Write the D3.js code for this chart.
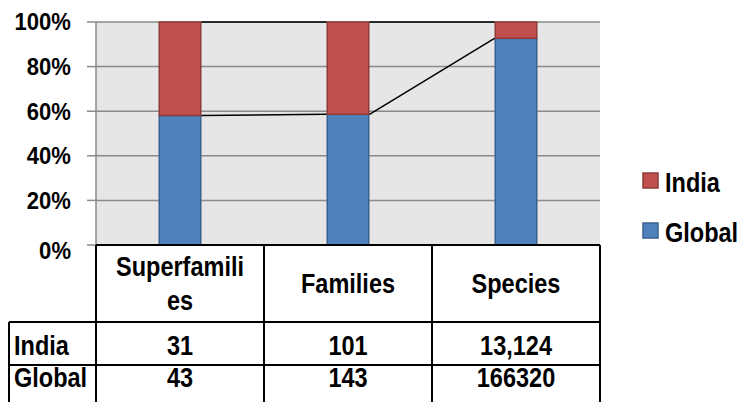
<!DOCTYPE html>
<html><head><meta charset="utf-8">
<script src="https://cdn.jsdelivr.net/npm/d3@7"></script>
<style>
html,body{margin:0;padding:0;background:#fff;}
text{font-family:'Liberation Sans',Arial,sans-serif;font-weight:bold;fill:#000;}
</style></head>
<body>
<svg id="c" width="749" height="402"></svg>
<script>
const categories = ["Superfamilies","Families","Species"];
const headerLines = [["Superfamili","es"],["Families"],["Species"]];
const seriesNames = ["India","Global"];
const indiaValues = [31,101,13124];
const globalValues = [43,143,166320];
const indiaLabels = ["31","101","13,124"];
const globalLabels = ["43","143","166320"];
const yTicks = [0,0.2,0.4,0.6,0.8,1];
const colors = {India:"#c0504d", Global:"#4f81bd"};
const strokes = {India:"#8e3b39", Global:"#3a6291"};

function addText(g, px, py, txt, anchor, size, sx){
  return g.append("text")
    .attr("transform",`translate(${px},${py}) scale(${sx},1)`)
    .attr("text-anchor",anchor).attr("dominant-baseline","central")
    .attr("font-size",size).text(txt);
}

const svg = d3.select("#c");
const L=96,R=600,T=22,B=245;
const x = d3.scaleBand().domain(categories).range([L,R]).paddingInner(0.744).paddingOuter(0.372);
const col = d3.scaleBand().domain(categories).range([L,R]);
const y = d3.scaleLinear().domain([0,1]).range([B,T]);

const rows = categories.map((c,i)=>({cat:c, India:indiaValues[i], Global:globalValues[i]}));
const stack = d3.stack().keys(["Global","India"]).offset(d3.stackOffsetExpand);
const stacked = stack(rows);

// plot background
svg.append("rect").attr("x",L).attr("y",T).attr("width",R-L).attr("height",B-T).attr("fill","#e6e6e6");
// gridlines
svg.append("g").selectAll("line").data(yTicks.filter(d=>d>0)).join("line")
  .attr("x1",L).attr("x2",R).attr("y1",d=>y(d)).attr("y2",d=>y(d))
  .attr("stroke","#8a8a8a").attr("stroke-width",1.5);
// y axis line and ticks
svg.append("line").attr("x1",L).attr("x2",L).attr("y1",T).attr("y2",B).attr("stroke","#8a8a8a").attr("stroke-width",1.5);
svg.append("g").selectAll("line").data(yTicks).join("line")
  .attr("x1",L-9).attr("x2",L).attr("y1",d=>y(d)).attr("y2",d=>y(d))
  .attr("stroke","#8a8a8a").attr("stroke-width",1.5);
const yl = svg.append("g");
yTicks.forEach(d=>addText(yl,71,y(d)+(d===0?6:0),d3.format(".0%")(d),"end",24,0.92));

// bars
stacked.forEach(s=>{
  svg.append("g").selectAll("rect").data(s).join("rect")
    .attr("x",d=>x(d.data.cat)+0.75).attr("width",x.bandwidth()-1.5)
    .attr("y",d=>y(d[1])).attr("height",d=>y(d[0])-y(d[1]))
    .attr("fill",colors[s.key]).attr("stroke",strokes[s.key]).attr("stroke-width",1.5);
});
// series lines
stacked.forEach(s=>{
  const segs = [];
  for(let i=0;i<s.length-1;i++){
    segs.push({x1:x(s[i].data.cat)+x.bandwidth(), y1:y(s[i][1]), x2:x(s[i+1].data.cat), y2:y(s[i+1][1])});
  }
  svg.append("g").selectAll("line").data(segs).join("line")
    .attr("x1",d=>d.x1).attr("y1",d=>d.y1).attr("x2",d=>d.x2).attr("y2",d=>d.y2)
    .attr("stroke","#000").attr("stroke-width",1.5);
});

// data table
const rowY = [B,322,365,404];
const tg = svg.append("g").attr("stroke","#000").attr("stroke-width",2);
tg.append("line").attr("x1",L).attr("x2",R).attr("y1",B).attr("y2",B);
tg.append("line").attr("x1",9).attr("x2",R).attr("y1",rowY[1]).attr("y2",rowY[1]);
tg.append("line").attr("x1",9).attr("x2",R).attr("y1",rowY[2]).attr("y2",rowY[2]);
tg.append("line").attr("x1",9).attr("x2",9).attr("y1",rowY[1]).attr("y2",rowY[3]);
tg.selectAll(".v").data(categories.concat(["end"])).join("line")
  .attr("x1",(d,i)=>i<3?col(d):R).attr("x2",(d,i)=>i<3?col(d):R)
  .attr("y1",B).attr("y2",rowY[3]);

// header
const hg = svg.append("g");
categories.forEach((c,i)=>{
  const lines = headerLines[i];
  const cx = col(c)+col.bandwidth()/2;
  const mid = (B+rowY[1])/2;
  const lh = 34;
  lines.forEach((t,j)=>addText(hg,cx,mid+(j-(lines.length-1)/2)*lh,t,"middle",28,0.84));
});
// rows
const rg = svg.append("g");
const tableRows = [{name:seriesNames[0],labels:indiaLabels,cy:345},{name:seriesNames[1],labels:globalLabels,cy:377}];
tableRows.forEach(r=>{
  addText(rg,14,r.cy,r.name,"start",28,0.84);
  categories.forEach((c,i)=>addText(rg,col(c)+col.bandwidth()/2,r.cy,r.labels[i],"middle",28,0.84));
});

// legend
const leg = svg.append("g");
seriesNames.forEach((n,i)=>{
  const ly = 181 + i*50;
  leg.append("rect").attr("x",643).attr("y",ly-8).attr("width",15).attr("height",15)
    .attr("fill",colors[n]).attr("stroke",strokes[n]).attr("stroke-width",1.5);
  addText(leg,665,ly+1,n,"start",28,0.84);
});
</script>
</body></html>
